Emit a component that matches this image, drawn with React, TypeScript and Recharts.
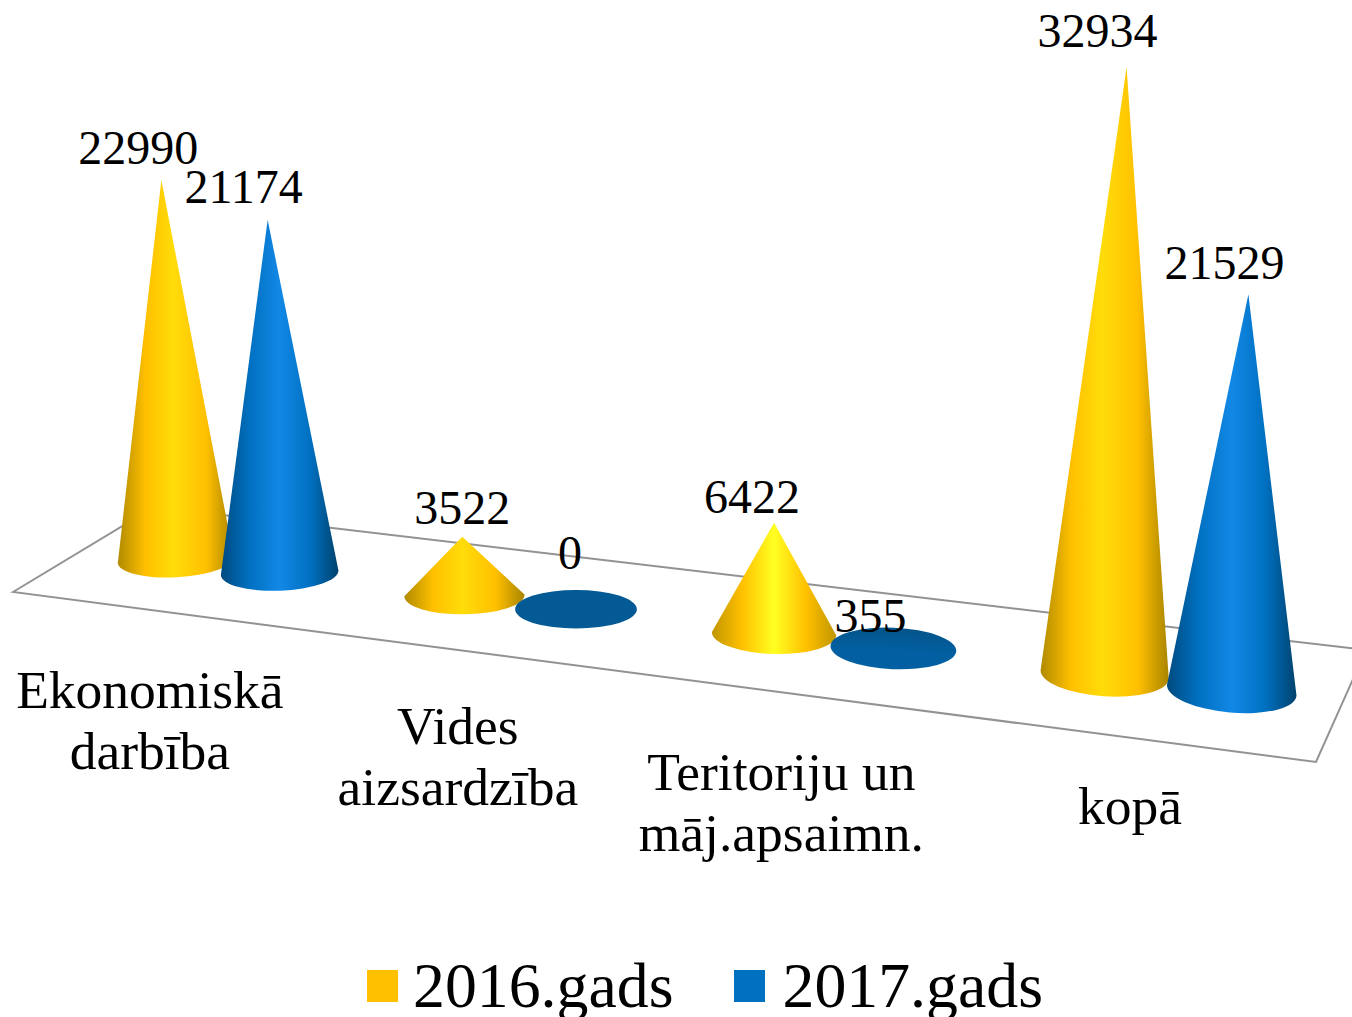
import { BarChart, Bar, XAxis, YAxis, Legend, LabelList } from "recharts";

const categories = ["Ekonomiskā\ndarbība", "Vides\naizsardzība", "Teritoriju un\nmāj.apsaimn.", "kopā"];
const values2016 = [22990, 3522, 6422, 32934];
const values2017 = [21174, 0, 355, 21529];

const chartData = categories.map((name, i) => ({
  name,
  y2016: values2016[i],
  y2017: values2017[i],
}));

const FONT = "'Liberation Serif', serif";
const W = 1352;
const H = 1017;
const MARGIN_LEFT = 85;
const BAND = 315;

// fake 3d: per category how much the cones grow and lean
const DEPTH_2016 = [0.964, 0.974, 1.008, 1.076];
const DEPTH_2017 = [0.972, 1, 1, 1.073];
const LEAN_2016 = [-0.038, -0.037, 0, 0.036];
const LEAN_2017 = [-0.034, 0, 0, 0.042];

// plot x -> screen x, bands get wider to the right
const toT = (px: number) => (px - MARGIN_LEFT) / BAND;
const projectX = (px: number) => {
  const t = toT(px);
  return 89 + 271.5 * t + 10.5 * t * t;
};
const floorY = (sx: number) => 559.5 + 0.1235 * (sx - 173);

function coneGeom(props: any, depth: number[], lean: number[]) {
  const { x, width, height, index } = props;
  const c = x + width / 2;
  const cx = projectX(c);
  const cy = floorY(cx);
  const rx = (width / 2) * (0.949 + 0.034 * toT(c));
  const ry = 17.5 + 0.0045 * (cx - 173);
  const h = height * depth[index];
  const apexX = cx + lean[index] * h;
  const apexY = cy - h;
  return { cx, cy, rx, ry, h, apexX, apexY };
}

function Cone(props: any) {
  const { index, grad, depth, lean } = props;
  const { cx, cy, rx, ry, h, apexX, apexY } = coneGeom(props, depth, lean);
  const deg = (cx - 575) * 0.0075;
  const a = (deg * Math.PI) / 180;
  const lx = cx - rx * Math.cos(a);
  const ly = cy - rx * Math.sin(a);
  const rxp = cx + rx * Math.cos(a);
  const ryp = cy + rx * Math.sin(a);

  // hardly any height: office draws it as a flat disc
  if (h < 10) {
    return (
      <ellipse
        cx={cx}
        cy={cy}
        rx={rx}
        ry={ry}
        fill={h > 0 ? "url(#flatBlue)" : "#045A94"}
        transform={`rotate(${deg} ${cx} ${cy})`}
      />
    );
  }
  const d = `M${lx} ${ly} L${apexX} ${apexY} L${rxp} ${ryp} A${rx} ${ry} ${deg} 0 1 ${lx} ${ly} Z`;
  return <path d={d} fill={`url(#${grad[index] ?? grad[0]})`} />;
}

const NUDGE_2016 = [[-23, -16], [0, -13], [-22, -10], [-29, -20]];
const NUDGE_2017 = [[-24, -17], [-6, -40], [-23, -10], [-24, -15]];

function coneLabel(nudge: number[][], depth: number[], lean: number[]) {
  return (props: any) => {
    const box = props.viewBox ?? props;
    const { apexX, apexY } = coneGeom({ ...box, index: props.index }, depth, lean);
    const [dx, dy] = nudge[props.index];
    return (
      <text x={apexX + dx} y={apexY + dy} textAnchor="middle" fontFamily={FONT} fontSize={48} fill="#000">
        {props.value}
      </text>
    );
  };
}

const TICK_X = [-77.5, -62, -52, -38];
const TICK_Y = [708, 744, 790, 824];

function CategoryTick(props: any) {
  const { x, payload, index } = props;
  const lines = String(payload.value).split("\n");
  const sx = projectX(x) + TICK_X[index];
  return (
    <text textAnchor="middle" fontFamily={FONT} fontSize={53.5} fill="#000">
      {lines.map((l, i) => (
        <tspan key={l} x={sx} y={TICK_Y[index] + i * 61}>
          {l}
        </tspan>
      ))}
    </text>
  );
}

function LegendRow({ payload }: any) {
  return (
    <div style={{ display: "flex", paddingLeft: 367, fontFamily: FONT, fontSize: 63.8, lineHeight: "67px", color: "#000" }}>
      {(payload ?? []).map((p: any, i: number) => (
        <div key={p.value} style={{ display: "flex", marginRight: i === 0 ? 61 : 0 }}>
          <div style={{ width: 31, height: 32, marginTop: 18, marginRight: i === 0 ? 15 : 17, background: p.color }} />
          <span>{p.value}</span>
        </div>
      ))}
    </div>
  );
}

export default function App() {
  return (
    <div style={{ position: "absolute", left: 0, top: 0, width: W, height: H, overflow: "hidden", background: "#fff" }}>
      <BarChart
        width={W}
        height={H}
        data={chartData}
        margin={{ top: 0, right: W - MARGIN_LEFT - BAND * 4, bottom: 0, left: MARGIN_LEFT }}
        barSize={121}
        barGap={-5}
      >
        <defs>
          <linearGradient id="gold" x1="0" y1="0" x2="1" y2="0">
            <stop offset="0" stopColor="#B08A00" />
            <stop offset="0.24" stopColor="#FFC000" />
            <stop offset="0.48" stopColor="#FFDC0A" />
            <stop offset="0.76" stopColor="#FFC000" />
            <stop offset="1" stopColor="#A88400" />
          </linearGradient>
          <linearGradient id="goldBright" x1="0" y1="0" x2="1" y2="0">
            <stop offset="0" stopColor="#C09600" />
            <stop offset="0.24" stopColor="#FFC000" />
            <stop offset="0.5" stopColor="#FFFF22" />
            <stop offset="0.76" stopColor="#FFC000" />
            <stop offset="1" stopColor="#C09600" />
          </linearGradient>
          <linearGradient id="blue" x1="0" y1="0" x2="1" y2="0">
            <stop offset="0" stopColor="#004A7E" />
            <stop offset="0.24" stopColor="#0070C0" />
            <stop offset="0.5" stopColor="#1288E6" />
            <stop offset="0.76" stopColor="#0070C0" />
            <stop offset="1" stopColor="#00426E" />
          </linearGradient>
          <linearGradient id="flatBlue" x1="0" y1="0" x2="0" y2="1">
            <stop offset="0" stopColor="#04548A" />
            <stop offset="0.6" stopColor="#0260A2" />
            <stop offset="1" stopColor="#0260A2" />
          </linearGradient>
        </defs>
        <polygon points="13,592 154,507 1366,650 1316,762" fill="none" stroke="#929292" strokeWidth={2} />
        <XAxis dataKey="name" axisLine={false} tickLine={false} interval={0} height={350} tick={CategoryTick} />
        <YAxis hide domain={[0, 35000]} />
        <Legend
          content={LegendRow}
          wrapperStyle={{ left: 0, top: 952, width: W, height: 67 }}
        />
        <Bar
          dataKey="y2016"
          name="2016.gads"
          fill="#FFC000"
          isAnimationActive={false}
          shape={(p: any) => <Cone {...p} depth={DEPTH_2016} lean={LEAN_2016} grad={["gold", "gold", "goldBright", "gold"]} />}
        >
          <LabelList dataKey="y2016" content={coneLabel(NUDGE_2016, DEPTH_2016, LEAN_2016)} />
        </Bar>
        <Bar
          dataKey="y2017"
          name="2017.gads"
          fill="#0070C0"
          isAnimationActive={false}
          shape={(p: any) => <Cone {...p} depth={DEPTH_2017} lean={LEAN_2017} grad={["blue"]} />}
        >
          <LabelList dataKey="y2017" content={coneLabel(NUDGE_2017, DEPTH_2017, LEAN_2017)} />
        </Bar>
      </BarChart>
    </div>
  );
}
